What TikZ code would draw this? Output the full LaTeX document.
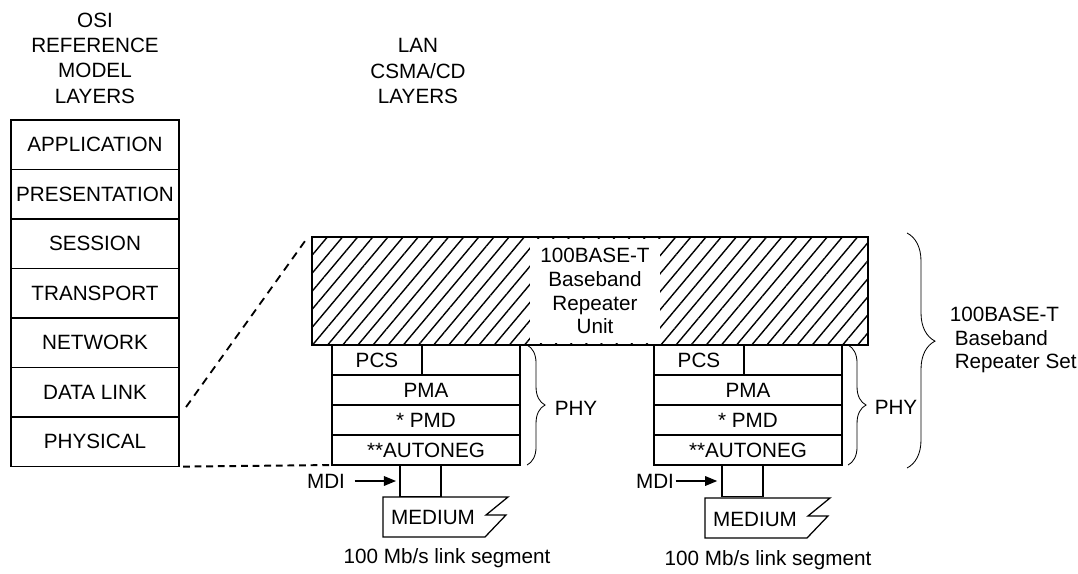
\documentclass[tikz,border=0pt]{standalone}
\usepackage{fontspec}
\setmainfont{Liberation Sans}
\usetikzlibrary{positioning,patterns.meta,decorations.pathreplacing,arrows.meta}

\tikzset{
  layer/.style={draw,line width=0.9pt,minimum width=4.2cm,minimum height=1.2375cm,inner sep=0pt,outer sep=0pt},
  sublayer/.style={draw,line width=0.9pt,minimum width=4.7cm,minimum height=0.75cm,inner sep=0pt,outer sep=0pt},
  mdibox/.style={draw,line width=0.9pt,minimum width=1.025cm,minimum height=0.775cm,inner sep=0pt,outer sep=0pt},
  hatchbox/.style={pattern={Lines[angle=50,distance=0.29cm,line width=1pt]},minimum width=13.9cm,minimum height=2.7cm,inner sep=0pt,outer sep=0pt},
  title/.style={align=center,font=\fontsize{14.7}{18}\selectfont},
  link/.style={line width=1.3pt,dash pattern=on 0.2cm off 0.15cm},
  flat/.style={line width=1.4pt,dash pattern=on 0.17cm off 0.12cm},
  brace/.style={decorate,decoration={brace,amplitude=#1},line width=0.6pt},
  mdiarrow/.style={line width=0.9pt,-{Triangle[length=0.3cm,width=0.24cm]}},
  medium/.style={line width=0.9pt}
}

\begin{document}
\begin{tikzpicture}[x=0.025cm,y=-0.025cm,font=\fontsize{14.7}{17}\selectfont]
\useasboundingbox (0,0) rectangle (1078,573);
% column titles
\node[title] (osititle) at (95,58) {OSI\\REFERENCE\\MODEL\\LAYERS};
\node[title] (lantitle) at (418,71) {LAN\\CSMA/CD\\LAYERS};
% OSI reference model
\node[layer] (app) at (95,144.75) {APPLICATION};
\node[layer,below=0pt of app] (pres) {PRESENTATION};
\node[layer,below=0pt of pres] (sess) {SESSION};
\node[layer,below=0pt of sess] (trans) {TRANSPORT};
\node[layer,below=0pt of trans] (net) {NETWORK};
\node[layer,below=0pt of net] (dlink) {DATA LINK};
\node[layer,below=0pt of dlink] (phys) {PHYSICAL};
% repeater unit
\node[hatchbox] (unit) at (590,291) {};
\node[fill=white,minimum width=3.25cm,minimum height=2.62cm,align=center,inner sep=0pt] (unitlbl) at (595,291) {100BASE-T\\Baseband\\Repeater\\Unit};
\draw[line width=0.9pt] (unit.north west) rectangle (unit.south east);
% left PHY
\node[sublayer] (rowL) at (426,360) {};
\node[sublayer,minimum width=2.25cm,anchor=north west] (pcsL) at (rowL.north west) {PCS};
\node[sublayer,below=0pt of rowL] (pmaL) {PMA};
\node[sublayer,below=0pt of pmaL] (pmdL) {* PMD};
\node[sublayer,below=0pt of pmdL] (anegL) {**AUTONEG};
\node[mdibox] (mdiL) at (420.5,481) {};
\draw[medium] (383,497) -- (508,497) -- (486,515) -- (506,515) -- (485,537) -- (383,537) -- cycle;
\node (medL) at (433,517) {MEDIUM};
\node (segL) at (447,558) {100 Mb/s link segment};
\node[inner sep=1pt] (mdiLtxt) at (326,481) {MDI};
\draw[mdiarrow] ([xshift=0.2cm]mdiLtxt.east) -- ([xshift=-0.1cm]mdiL.west);
% right PHY
\node[sublayer] (rowR) at (748,360) {};
\node[sublayer,minimum width=2.25cm,anchor=north west] (pcsR) at (rowR.north west) {PCS};
\node[sublayer,below=0pt of rowR] (pmaR) {PMA};
\node[sublayer,below=0pt of pmaR] (pmdR) {* PMD};
\node[sublayer,below=0pt of pmdR] (anegR) {**AUTONEG};
\node[mdibox] (mdiR) at (742.5,481) {};
\draw[medium] (705,498) -- (830,498) -- (808,516) -- (828,516) -- (807,538) -- (705,538) -- cycle;
\node (medR) at (755,519) {MEDIUM};
\node (segR) at (768,560) {100 Mb/s link segment};
\node[inner sep=1pt] (mdiRtxt) at (655,481) {MDI};
\draw[mdiarrow] (mdiRtxt.east) -- ([xshift=-0.12cm]mdiR.west);
% braces
\draw[brace=0.45cm] ([xshift=0.175cm]rowL.north east) -- ([xshift=0.175cm]anegL.south east);
\node (phyL) at (576,408) {PHY};
\draw[brace=0.45cm] ([xshift=0.15cm]rowR.north east) -- ([xshift=0.15cm]anegR.south east);
\node (phyR) at (896,407) {PHY};
\coordinate (settop) at (907,233);
\coordinate (setbot) at (907,468);
\draw[brace=0.7cm,decoration={aspect=0.46}] (settop) -- (setbot);
\node[anchor=west,align=left] (setlbl) at (945,340) {100BASE-T\\\hspace*{0.12cm}Baseband\\\hspace*{0.12cm}Repeater Set};
% mapping to OSI
\draw[link] ([xshift=0.175cm,yshift=0.25cm]dlink.south east) -- ([xshift=-0.1cm]unit.north west);
\draw[flat] ([xshift=0.1cm]phys.south east) -- (anegL.south west);
\end{tikzpicture}
\end{document}
